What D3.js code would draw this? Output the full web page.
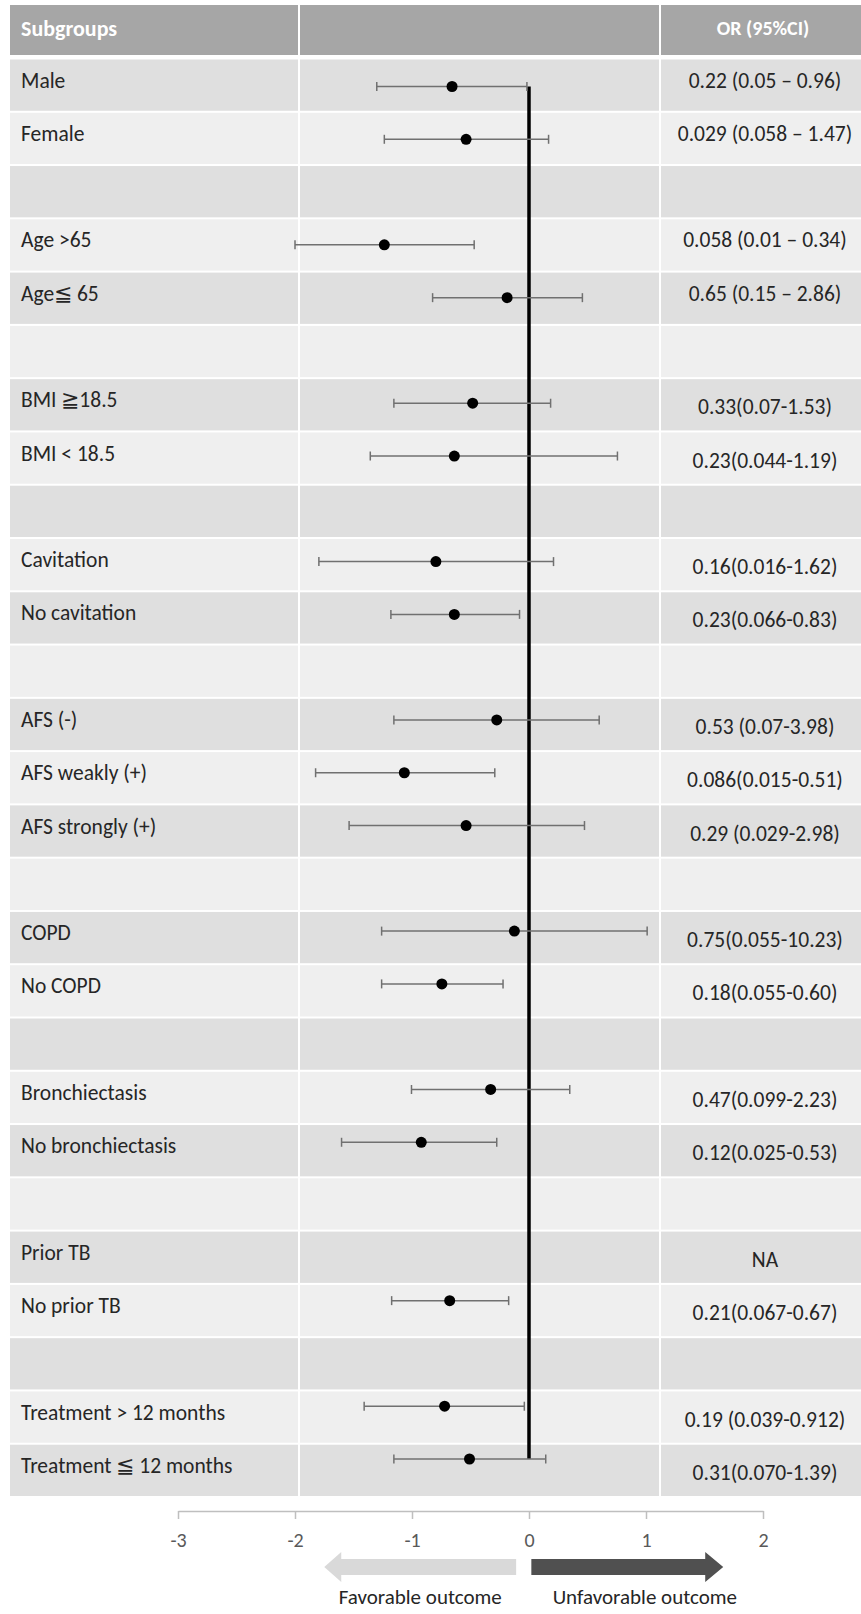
<!DOCTYPE html>
<html>
<head>
<meta charset="utf-8">
<script src="https://cdn.jsdelivr.net/npm/d3@7"></script>
<style>
  html, body { margin: 0; padding: 0; background: #ffffff; }
  svg { display: block; }
  text { font-family: Carlito, Calibri, Lato, "Noto Sans", sans-serif; }
</style>
</head>
<body>
<svg id="chart" width="861" height="1614"></svg>
<script>
// Subgroup rows (blank strings are spacer rows between groups)
const subgroups = [
  "Male", "Female", "",
  "Age >65", "Age\u2266 65", "",
  "BMI \u226718.5", "BMI < 18.5", "",
  "Cavitation", "No cavitation", "",
  "AFS (-)", "AFS weakly (+)", "AFS strongly (+)", "",
  "COPD", "No COPD", "",
  "Bronchiectasis", "No bronchiectasis", "",
  "Prior TB", "No prior TB", "",
  "Treatment > 12 months", "Treatment \u2266 12 months"
];

// Odds ratio point estimates and 95% CI bounds (null = no estimate)
const oddsRatio = [
  0.22, 0.29, null,
  0.058, 0.65, null,
  0.33, 0.23, null,
  0.16, 0.23, null,
  0.53, 0.086, 0.29, null,
  0.75, 0.18, null,
  0.47, 0.12, null,
  null, 0.21, null,
  0.19, 0.31
];
const ciLower = [
  0.05, 0.058, null,
  0.01, 0.15, null,
  0.07, 0.044, null,
  0.016, 0.066, null,
  0.07, 0.015, 0.029, null,
  0.055, 0.055, null,
  0.099, 0.025, null,
  null, 0.067, null,
  0.039, 0.070
];
const ciUpper = [
  0.96, 1.47, null,
  0.34, 2.86, null,
  1.53, 5.7, null,
  1.62, 0.83, null,
  3.98, 0.51, 2.98, null,
  10.23, 0.60, null,
  2.23, 0.53, null,
  null, 0.67, null,
  0.912, 1.39
];

// Printed OR (95%CI) column
const orLabels = [
  "0.22 (0.05 \u2013 0.96)", "0.029 (0.058 \u2013 1.47)", "",
  "0.058 (0.01 \u2013 0.34)", "0.65 (0.15 \u2013 2.86)", "",
  "0.33(0.07-1.53)", "0.23(0.044-1.19)", "",
  "0.16(0.016-1.62)", "0.23(0.066-0.83)", "",
  "0.53 (0.07-3.98)", "0.086(0.015-0.51)", "0.29 (0.029-2.98)", "",
  "0.75(0.055-10.23)", "0.18(0.055-0.60)", "",
  "0.47(0.099-2.23)", "0.12(0.025-0.53)", "",
  "NA", "0.21(0.067-0.67)", "",
  "0.19 (0.039-0.912)", "0.31(0.070-1.39)"
];

const headerLabels = ["Subgroups", "OR (95%CI)"];
const axisTicks = [-3, -2, -1, 0, 1, 2];
const directionLabels = ["Favorable outcome", "Unfavorable outcome"];

// ---- layout ----
const svg = d3.select("#chart");
const tableLeft = 10, tableRight = 861;
const colSplit1 = 299, colSplit2 = 660;
const headerTop = 5, headerBottom = 55;
const rowsTop = 58.5, rowsBottom = 1497;
const textSize = 21.5;

const idx = d3.range(subgroups.length);
const yRow = d3.scaleBand().domain(idx).range([rowsTop, rowsBottom]);
const yMark = d3.scalePoint().domain(idx).range([86.5, 1459]);
const x = d3.scaleLinear().domain([-3, 2]).range([178, 763]);
const lg = v => Math.log10(v);
const rowMid = i => yRow(i) + yRow.bandwidth() / 2;

// header band
svg.append("rect")
  .attr("x", tableLeft).attr("y", headerTop)
  .attr("width", tableRight - tableLeft).attr("height", headerBottom - headerTop)
  .attr("fill", "#a6a6a6");

// row backgrounds
svg.append("g").selectAll("rect").data(idx).join("rect")
  .attr("x", tableLeft)
  .attr("y", i => yRow(i) + 1)
  .attr("width", tableRight - tableLeft)
  .attr("height", yRow.bandwidth() - 2)
  .attr("fill", i => i % 2 === 0 ? "#dfdfdf" : "#efefef");

// white column dividers
svg.append("g").selectAll("line").data([colSplit1, colSplit2]).join("line")
  .attr("x1", d => d).attr("x2", d => d)
  .attr("y1", headerTop).attr("y2", rowsBottom)
  .attr("stroke", "#ffffff").attr("stroke-width", 2);

// header texts
svg.append("text")
  .attr("x", 21).attr("y", (headerTop + headerBottom) / 2 - 2)
  .attr("dy", "0.35em")
  .attr("font-size", 22).attr("font-weight", "bold").attr("fill", "#ffffff")
  .text(headerLabels[0]);
svg.append("text")
  .attr("x", 763).attr("y", (headerTop + headerBottom) / 2 - 2)
  .attr("dy", "0.35em").attr("text-anchor", "middle")
  .attr("font-size", 20).attr("font-weight", "bold").attr("fill", "#ffffff")
  .text(headerLabels[1]);

// subgroup labels
svg.append("g").selectAll("text").data(idx.filter(i => subgroups[i])).join("text")
  .attr("x", 21)
  .attr("y", i => rowMid(i) - 5)
  .attr("dy", "0.35em")
  .attr("font-size", textSize).attr("fill", "#262626")
  .text(i => subgroups[i]);

// OR text (the en-dash entries sit a little higher in their rows)
svg.append("g").selectAll("text").data(idx.filter(i => orLabels[i])).join("text")
  .attr("x", 765)
  .attr("y", i => rowMid(i) + (orLabels[i].includes("\u2013") ? -5 : 2))
  .attr("dy", "0.35em").attr("text-anchor", "middle")
  .attr("font-size", textSize).attr("fill", "#262626")
  .text(i => orLabels[i]);

// null effect line at log10(OR) = 0
svg.append("line")
  .attr("x1", x(0)).attr("x2", x(0))
  .attr("y1", yMark(0)).attr("y2", yMark(idx.length - 1))
  .attr("stroke", "#000000").attr("stroke-width", 3.5);

// confidence intervals
const est = idx.filter(i => oddsRatio[i] != null);
const ci = svg.append("g").attr("stroke", "#707070").attr("stroke-width", 1.5);
ci.selectAll("line.ci").data(est).join("line").attr("class", "ci")
  .attr("x1", i => x(lg(ciLower[i]))).attr("x2", i => x(lg(ciUpper[i])))
  .attr("y1", i => yMark(i)).attr("y2", i => yMark(i));
ci.selectAll("line.capL").data(est).join("line").attr("class", "capL")
  .attr("x1", i => x(lg(ciLower[i]))).attr("x2", i => x(lg(ciLower[i])))
  .attr("y1", i => yMark(i) - 4.5).attr("y2", i => yMark(i) + 4.5);
ci.selectAll("line.capR").data(est).join("line").attr("class", "capR")
  .attr("x1", i => x(lg(ciUpper[i]))).attr("x2", i => x(lg(ciUpper[i])))
  .attr("y1", i => yMark(i) - 4.5).attr("y2", i => yMark(i) + 4.5);

// point estimates
svg.append("g").selectAll("circle").data(est).join("circle")
  .attr("cx", i => x(lg(oddsRatio[i])))
  .attr("cy", i => yMark(i))
  .attr("r", 5.5).attr("fill", "#000000");

// bottom axis
const axisY = 1511;
const axisG = svg.append("g").attr("transform", `translate(0,${axisY})`)
  .call(d3.axisBottom(x).tickValues(axisTicks).tickFormat(d => String(d))
    .tickSize(8).tickPadding(14).tickSizeOuter(0));
axisG.select(".domain").attr("stroke", "#bfbfbf").attr("stroke-width", 1.5);
axisG.selectAll(".tick line").attr("stroke", "#bfbfbf").attr("stroke-width", 1.5);
axisG.selectAll(".tick text")
  .attr("font-family", "Carlito, Calibri, Lato, 'Noto Sans', sans-serif")
  .attr("font-size", 20).attr("fill", "#595959");

// direction arrows
function arrowPath(x0, x1, cy, bodyH, headH, headL) {
  const dir = Math.sign(x1 - x0);
  const xh = x1 - dir * headL;
  return d3.line()([
    [x0, cy - bodyH / 2], [xh, cy - bodyH / 2], [xh, cy - headH / 2],
    [x1, cy], [xh, cy + headH / 2], [xh, cy + bodyH / 2], [x0, cy + bodyH / 2]
  ]) + "Z";
}
const arrowY = 1567;
svg.append("path")
  .attr("d", arrowPath(x(-0.11), x(-1.75), arrowY, 16, 30, 17))
  .attr("fill", "#d9d9d9");
svg.append("path")
  .attr("d", arrowPath(x(0.02), x(1.66), arrowY, 16, 30, 18))
  .attr("fill", "#505050");

svg.append("text")
  .attr("x", x(-0.93)).attr("y", 1597).attr("dy", "0.35em")
  .attr("text-anchor", "middle").attr("font-size", 21).attr("fill", "#262626")
  .text(directionLabels[0]);
svg.append("text")
  .attr("x", x(0.99)).attr("y", 1597).attr("dy", "0.35em")
  .attr("text-anchor", "middle").attr("font-size", 21).attr("fill", "#262626")
  .text(directionLabels[1]);
</script>
</body>
</html>
